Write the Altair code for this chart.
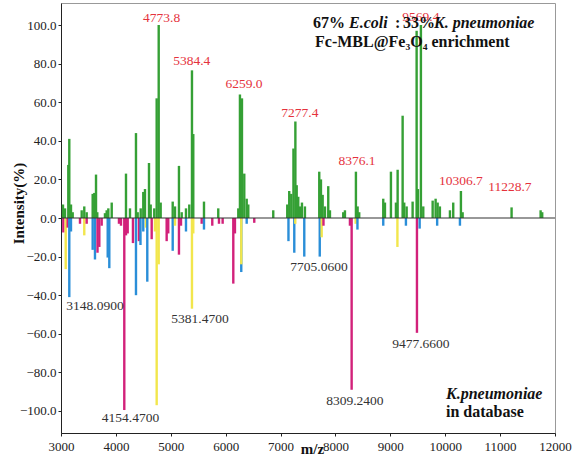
import altair as alt
import pandas as pd

# ---- sample spectrum (positive, green) ----
pos_mz = [3036, 3073, 3133, 3151, 3182, 3213, 3377, 3424, 3468, 3577, 3607, 3638, 3661,
          3801, 3832, 3862, 3924, 4184, 4257, 4366, 4397, 4452, 4499, 4530, 4603, 4634,
          4699, 4743, 4780, 4816, 5035, 5077, 5149, 5199, 5277, 5337, 5386, 5410, 5605,
          5865, 6230, 6260, 6297, 6339, 6383, 6412, 6867, 7122, 7158, 7195, 7235, 7270,
          7294, 7322, 7353, 7390, 7444, 7705, 7736, 7767, 7809, 7869, 7900, 8142, 8173,
          8373, 8404, 8433, 8871, 8902, 9011, 9102, 9133, 9224, 9253, 9297, 9406, 9479,
          9503, 9557, 9600, 9771, 9825, 9862, 9903, 10086, 10146, 10286, 10317, 11209,
          11738, 11767]
pos_int = [7, 5, 27.5, 41, 7, 3, 4, 6, 3, 12.5, 13, 22.5, 3,
           2.5, 4, 5, 8, 23, 5, 44, 3, 5, 13.5, 15, 28.5, 7,
           5, 62, 100, 8, 8.5, 6, 27, 3, 5, 7, 76.5, 43.5, 8.5,
           5, 5, 64, 62, 23, 10, 7, 4, 7, 14, 12.5, 36, 50,
           17, 11, 6, 8, 6, 24, 20, 12, 6, 16.5, 4, 3, 4,
           24, 6, 3, 10, 8, 24, 8, 25, 53, 8, 6, 8.5, 97,
           15, 100, 6, 9, 10, 8, 6, 4, 8, 14, 3, 5.5,
           4, 3]

# ---- database spectra (negative) ----
neg_mz = [3042, 3086, 3122, 3151, 3182, 3346, 3424, 3468, 3577, 3619, 3665, 3698, 3741,
          3851, 3880, 4056, 4093, 4153, 4184, 4215, 4311, 4366, 4420, 4448, 4499, 4548,
          4572, 4652, 4712, 4743, 4780, 4925, 4954, 5035, 5077, 5149, 5186, 5277, 5386,
          5410, 5563, 5605, 5756, 5878, 5945, 6139, 6169, 6284, 6284, 6383, 6521, 7144,
          7250, 7268, 7432, 7714, 7749, 7782, 8264, 8295, 8368, 8401, 8871, 9129, 9284,
          9485, 9534, 9853, 10268]
neg_int = [-7.5, -26.5, -5, -41, -7, -3, -9, -3, -16.5, -21.5, -18, -15, -4,
           -20.5, -26, -3, -4, -99.5, -9, -8, -13, -40, -12, -14, -7, -5,
           -33, -11, -7, -97, -24, -12, -8, -17, -4, -19, -4, -7, -47,
           -8, -3, -6, -4, -3, -3, -34, -8, -28, -24, -3, -2.5, -12,
           -18, -3, -20, -20, -10, -4, -4, -89, -3, -6, -4, -15, -4,
           -59.5, -5.5, -4, -4]
neg_db = ["M", "Y", "M", "B", "B", "M", "Y", "M", "B", "B", "M", "M", "M",
          "B", "B", "M", "M", "M", "M", "M", "M", "B", "M", "B", "B", "Y",
          "B", "M", "Y", "Y", "Y", "M", "M", "B", "Y", "M", "M", "B", "Y",
          "Y", "M", "B", "M", "M", "M", "M", "M", "B", "Y", "B", "M", "B",
          "B", "Y", "B", "B", "Y", "M", "M", "M", "Y", "B", "B", "Y", "B",
          "M", "B", "B", "B"]

# ---- peak labels ----
red_text = ["4773.8", "5384.4", "6259.0", "7277.4", "8376.1", "9569.4", "10306.7", "11228.7"]
red_mz = [4834, 5381, 6333, 7353, 8392, 9557, 10286, 11178]
red_y = [103.6, 81.4, 69.5, 54.5, 29.7, 104.0, 19.4, 16.3]

db_text = ["3148.0900", "4154.4700", "5381.4700", "7705.0600", "8309.2400", "9477.6600"]
db_mz = [3619, 4266, 5532, 7700, 8355, 9557]
db_y = [-45.7, -103.6, -52.5, -25.6, -94.8, -65.4]

df_pos = pd.DataFrame({"mz": pos_mz, "intensity": pos_int})
df_neg = pd.DataFrame({"mz": neg_mz, "intensity": neg_int, "db": neg_db})
df_red = pd.DataFrame({"mz": red_mz, "intensity": red_y, "label": red_text})
df_db = pd.DataFrame({"mz": db_mz, "intensity": db_y, "label": db_text})

SERIF = "Liberation Serif"

x_enc = alt.X("mz:Q",
              scale=alt.Scale(domain=[3000, 12000], nice=False, zero=False),
              axis=alt.Axis(values=list(range(3000, 12001, 1000)), format="d",
                            labelFlush=False,
                            title="m/z", titleX=251, titleY=20,
                            titleBaseline="alphabetic", titleAlign="center"))
y_enc = alt.Y("intensity:Q",
              scale=alt.Scale(domain=[-111.4, 111.4], nice=False, zero=False),
              axis=alt.Axis(values=list(range(-100, 101, 20)), format=".1f",
                            title="Intensity(%)", titleX=-38, titleY=200,
                            titleBaseline="alphabetic", titleAlign="center"))

green = alt.Chart(df_pos).mark_rule(color="#35a035", strokeWidth=2.4).encode(
    x=x_enc, y=y_enc, y2=alt.datum(0))

neg = alt.Chart(df_neg).mark_rule(strokeWidth=2.4).encode(
    x=x_enc, y=y_enc, y2=alt.datum(0),
    color=alt.Color("db:N", legend=None,
                    scale=alt.Scale(domain=["M", "B", "Y"],
                                    range=["#d2217a", "#2a8ed8", "#f2e64c"])))

zero = alt.Chart(pd.DataFrame({"z": [0]})).mark_rule(color="#333333", strokeWidth=1.2).encode(
    y=alt.Y("z:Q", scale=alt.Scale(domain=[-111.4, 111.4], nice=False, zero=False)),
    x=alt.value(0), x2=alt.value(494))

red_lbl = alt.Chart(df_red).mark_text(font=SERIF, fontSize=13.5, color="#e5323c",
                                      align="center", baseline="middle").encode(
    x=x_enc, y=y_enc, text="label:N")

db_lbl = alt.Chart(df_db).mark_text(font=SERIF, fontSize=13.5, color="#333333",
                                    align="center", baseline="middle").encode(
    x=x_enc, y=y_enc, text="label:N")


def note(txt, px, py, italic=False, size=16):
    return alt.Chart(pd.DataFrame({"t": [txt]})).mark_text(
        font=SERIF, fontSize=size, fontWeight="bold",
        fontStyle="italic" if italic else "normal",
        color="#111111", align="left", baseline="alphabetic").encode(
        x=alt.value(px), y=alt.value(py), text="t:N")


notes = [
    note("67%", 252, 25),
    note("E.coli", 288, 25, italic=True),
    note(":", 334, 25),
    note("33%", 342, 25),
    note("K. pneumoniae", 373, 25, italic=True),
    note("Fc-MBL@Fe\u2083O\u2084 enrichment", 254, 44),
    note("K.pneumoniae", 385, 396, italic=True),
    note("in database", 385, 414),
]

chart = alt.layer(green, neg, zero, red_lbl, db_lbl, *notes).properties(
    width=494, height=430,
    autosize=alt.AutoSizeParams(type="none"),
    padding={"left": 61, "top": 3, "right": 25, "bottom": 32},
).configure_view(
    stroke="#999999", strokeWidth=1
).configure_axis(
    grid=False, domainColor="#222222", tickColor="#222222", tickSize=3,
    labelFont=SERIF, labelFontSize=13, labelColor="#222222",
    titleFont=SERIF, titleFontSize=15, titleFontWeight="bold", titleColor="#111111",
).configure_axisY(labelPadding=2).configure_axisX(labelPadding=4)

chart.save("out.html", embed_options={"renderer": "svg", "actions": False})
